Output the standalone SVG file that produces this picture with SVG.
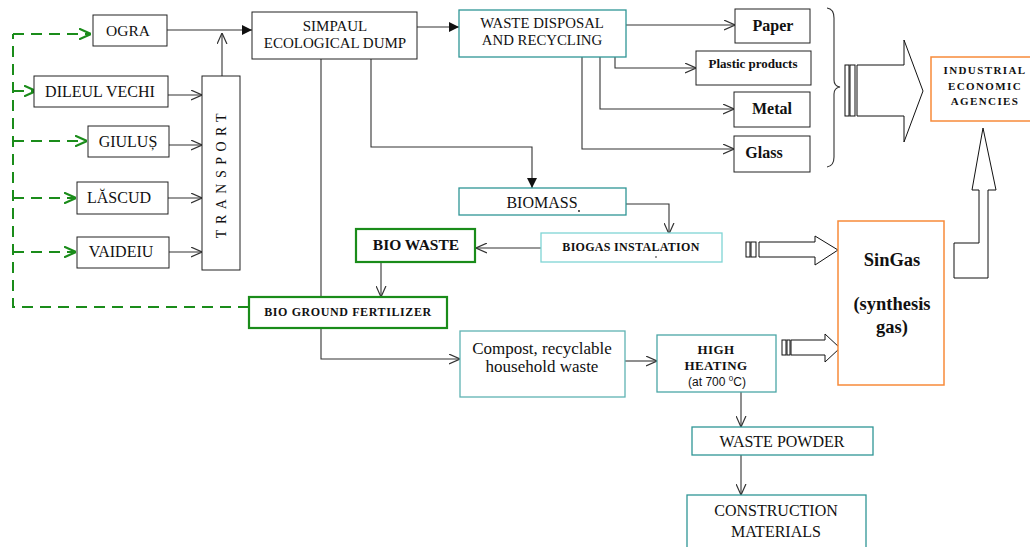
<svg xmlns="http://www.w3.org/2000/svg" width="1030" height="547" viewBox="0 0 1030 547" font-family="'Liberation Serif', Tinos, 'DejaVu Serif', 'Times New Roman', serif">
<defs>
<style>
.t{font-family:'Liberation Serif', Tinos, 'DejaVu Serif', 'Times New Roman', serif;fill:#111;text-anchor:middle}
.b{font-weight:bold}
.bx{fill:#fff;stroke:#222;stroke-width:1}
.teal{fill:#fff;stroke:#2f9696;stroke-width:1.3}
.lteal{fill:#fff;stroke:#7fd4d4;stroke-width:1.3}
.grn{fill:#fff;stroke:#1a8c1a;stroke-width:2.2}
.org{fill:#fff;stroke:#f78a3a;stroke-width:1.5}
.ln{fill:none;stroke:#333;stroke-width:1.1}
.gd{fill:none;stroke:#1a8c1a;stroke-width:2;stroke-dasharray:11,7}
.hol{fill:#fff;stroke:#111;stroke-width:1}
</style>
<marker id="op" viewBox="0 0 10 10" refX="10" refY="5" markerWidth="11" markerHeight="11" markerUnits="userSpaceOnUse" orient="auto">
<path d="M0,0.5 L10,5 L0,9.5" fill="none" stroke="#333" stroke-width="1.1"/>
</marker>
<marker id="fl" viewBox="0 0 10 10" refX="10" refY="5" markerWidth="10" markerHeight="10" markerUnits="userSpaceOnUse" orient="auto">
<path d="M0,0 L10,5 L0,10 Z" fill="#111"/>
</marker>
<marker id="gop" viewBox="0 0 10 10" refX="10" refY="5" markerWidth="12" markerHeight="12" markerUnits="userSpaceOnUse" orient="auto">
<path d="M0,0.5 L10,5 L0,9.5" fill="none" stroke="#1a8c1a" stroke-width="1.8"/>
</marker>
</defs>
<rect width="1030" height="547" fill="#fff"/>

<g id="connectors">
<path class="gd" d="M249,307 H13 V34"/>
<path class="gd" d="M13,34 H91" marker-end="url(#gop)"/>
<path class="gd" d="M13,91 H36" marker-end="url(#gop)"/>
<path class="gd" d="M13,141 H87" marker-end="url(#gop)"/>
<path class="gd" d="M13,198 H76" marker-end="url(#gop)"/>
<path class="gd" d="M13,252 H76" marker-end="url(#gop)"/>
<path class="ln" d="M168,95 H202" marker-end="url(#op)"/>
<path class="ln" d="M169,145 H202" marker-end="url(#op)"/>
<path class="ln" d="M168,198 H202" marker-end="url(#op)"/>
<path class="ln" d="M169,252 H202" marker-end="url(#op)"/>
<path class="ln" d="M222,76 V33" marker-end="url(#op)"/>
<path class="ln" d="M167,30 H252" marker-end="url(#fl)"/>
<path class="ln" d="M417,27 H459" marker-end="url(#fl)"/>
<path class="ln" d="M371,59 V147 H532 V188" marker-end="url(#fl)"/>
<path class="ln" d="M321,59 V359 H460" marker-end="url(#op)"/>
<path class="ln" d="M626,25 H735" marker-end="url(#op)"/>
<path class="ln" d="M615,57 V68 H696" marker-end="url(#op)"/>
<path class="ln" d="M600,57 V109 H734" marker-end="url(#op)"/>
<path class="ln" d="M582,57 V149 H734" marker-end="url(#op)"/>
<path class="ln" d="M626,204 H669 V234" marker-end="url(#op)"/>
<path class="ln" d="M541,248 H476" marker-end="url(#op)"/>
<path class="ln" d="M381,262 V297" marker-end="url(#op)"/>
<path class="ln" d="M625,361 H657" marker-end="url(#op)"/>
<path class="ln" d="M741,392 V427" marker-end="url(#op)"/>
<path class="ln" d="M741,455 V495" marker-end="url(#op)"/>
<path class="ln" d="M827,8 Q834,9 834,18 V80 Q834,86 840,87 Q834,88 834,94 V157 Q834,166 827,167"/>
<rect class="hol" x="845" y="65" width="4" height="51"/>
<rect class="hol" x="850" y="65" width="5" height="51"/>
<path class="hol" d="M857,65 H904 V40 L923,91 L904,142 V116 H857 Z"/>
<rect class="hol" x="746" y="242" width="4" height="15"/>
<rect class="hol" x="751" y="242" width="5" height="15"/>
<path class="hol" d="M759,242 H815 V236 L838,250 L815,265 V257 H759 Z"/>
<rect class="hol" x="782" y="340" width="4" height="15"/>
<rect class="hol" x="787" y="340" width="3" height="15"/>
<path class="hol" d="M791,340 H825 V334 L840,348 L825,362 V355 H791 Z"/>
<path class="hol" d="M983,128 L996,190 H988 V278 H954 V243 H979 V190 H972 Z"/>
</g>

<g id="ogra"><rect class="bx" x="93" y="15" width="74" height="31"/><text class="t" x="128" y="36" font-size="15.5">OGRA</text></g>
<g id="dileul"><rect class="bx" x="34" y="76" width="134" height="31"/><text class="t" x="100" y="97" font-size="16">DILEUL VECHI</text></g>
<g id="giulus"><rect class="bx" x="88" y="126" width="81" height="31"/><text class="t" x="128" y="147" font-size="16">GIULUȘ</text></g>
<g id="lascud"><rect class="bx" x="77" y="182" width="91" height="32"/><text class="t" x="119" y="203" font-size="16">LĂSCUD</text></g>
<g id="vaideiu"><rect class="bx" x="77" y="237" width="92" height="31"/><text class="t" x="121" y="257" font-size="16">VAIDEIU</text></g>
<g id="transport"><rect class="bx" x="202" y="76" width="38" height="194"/><text class="t" transform="translate(226,173) rotate(-90)" font-size="14" letter-spacing="5.5">TRANSPORT</text></g>
<g id="simpaul"><rect class="bx" x="252" y="12" width="165" height="47"/><text class="t" x="335" y="31" font-size="15">SIMPAUL</text><text class="t" x="335" y="48" font-size="15">ECOLOGICAL DUMP</text></g>
<g id="waste-disposal"><rect class="teal" x="459" y="10" width="167" height="47"/><text class="t" x="542" y="28" font-size="14.8">WASTE DISPOSAL</text><text class="t" x="542" y="45" font-size="14.8">AND RECYCLING</text></g>
<g id="paper"><rect class="bx" x="735" y="9" width="75" height="34"/><text class="t b" x="773" y="31" font-size="16">Paper</text></g>
<g id="plastic"><rect class="bx" x="696" y="51" width="115" height="34"/><text class="t b" x="753" y="68" font-size="13">Plastic products</text></g>
<g id="metal"><rect class="bx" x="734" y="92" width="76" height="35"/><text class="t b" x="772" y="114" font-size="16">Metal</text></g>
<g id="glass"><rect class="bx" x="734" y="136" width="76" height="36"/><text class="t b" x="764" y="158" font-size="16">Glass</text></g>
<g id="industrial"><rect class="org" x="931" y="57" width="101" height="64"/><text class="t b" x="985" y="74" font-size="11" letter-spacing="1.4">INDUSTRIAL</text><text class="t b" x="985" y="90" font-size="11" letter-spacing="1.4">ECONOMIC</text><text class="t b" x="985" y="105" font-size="11" letter-spacing="1.4">AGENCIES</text></g>
<g id="biomass"><rect class="teal" x="459" y="188" width="167" height="27"/><text class="t" x="542" y="208" font-size="16">BIOMASS</text><circle cx="579" cy="211" r="0.9" fill="#111"/></g>
<g id="biogas"><rect class="lteal" x="541" y="233" width="181" height="29"/><text class="t b" x="631" y="251" font-size="12" letter-spacing="0.3">BIOGAS INSTALATION</text><circle cx="656" cy="257" r="0.8" fill="#111"/></g>
<g id="bio-waste"><rect class="grn" x="356" y="229" width="119" height="33"/><text class="t b" x="416" y="250" font-size="15.5">BIO WASTE</text></g>
<g id="bio-ground"><rect class="grn" x="249" y="297" width="198" height="31"/><text class="t b" x="348" y="316" font-size="12" letter-spacing="0.6">BIO GROUND FERTILIZER</text></g>
<g id="singas"><rect class="org" x="838" y="221" width="106" height="164"/><text class="t b" x="892" y="266" font-size="18.5">SinGas</text><text class="t b" x="892" y="310" font-size="18.5">(synthesis</text><text class="t b" x="892" y="333" font-size="18.5">gas)</text></g>
<g id="compost"><rect class="teal" x="460" y="331" width="165" height="66" style="stroke:#5fb3b3"/><text class="t" x="542" y="354" font-size="17">Compost, recyclable</text><text class="t" x="542" y="372" font-size="17">household waste</text></g>
<g id="high-heating"><rect class="teal" x="657" y="335" width="119" height="57" style="stroke:#4aa6a6"/><text class="t b" x="716" y="354" font-size="13" letter-spacing="0.4">HIGH</text><text class="t b" x="716" y="370" font-size="13" letter-spacing="0.4">HEATING</text><text x="717" y="386" font-size="12" text-anchor="middle" font-family="'Liberation Sans', Arial, sans-serif" fill="#111">(at 700 <tspan font-size="8" dy="-5">0</tspan><tspan dy="5">C)</tspan></text></g>
<g id="waste-powder"><rect class="teal" x="692" y="427" width="181" height="28"/><text class="t" x="782" y="447" font-size="16">WASTE POWDER</text></g>
<g id="construction"><rect class="teal" x="687" y="495" width="179" height="60"/><text class="t" x="776" y="516" font-size="16">CONSTRUCTION</text><text class="t" x="776" y="537" font-size="16">MATERIALS</text></g>
</svg>
